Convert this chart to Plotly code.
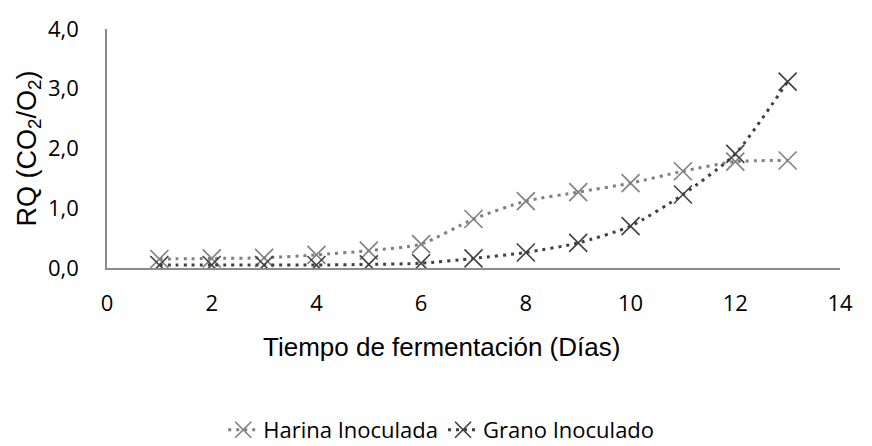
import plotly.graph_objects as go

dias = [1, 2, 3, 4, 5, 6, 7, 8, 9, 10, 11, 12, 13]
harina = [0.15, 0.16, 0.17, 0.22, 0.29, 0.40, 0.82, 1.12, 1.27, 1.42, 1.62, 1.78, 1.80]
grano = [0.05, 0.05, 0.05, 0.05, 0.06, 0.08, 0.16, 0.26, 0.42, 0.70, 1.23, 1.91, 3.12]

x_ticks = [0, 2, 4, 6, 8, 10, 12, 14]
y_ticks = [0, 1, 2, 3, 4]

x_title = "Tiempo de fermentación (Días)"
y_title = "RQ (CO<sub>2</sub>/O<sub>2</sub>)"

TICKFONT = "Open Sans, Lato, sans-serif"
TITLEFONT = "Liberation Sans, Arial, sans-serif"

fig = go.Figure()
fig.add_trace(go.Scatter(
    x=dias, y=harina, name="Harina Inoculada", mode="lines+markers",
    line=dict(color="#7f7f7f", width=3, dash="3px,5px", shape="spline", smoothing=0.6),
    marker=dict(symbol="x-thin-open", size=18, line=dict(color="#7f7f7f", width=1.6)),
))
fig.add_trace(go.Scatter(
    x=dias, y=grano, name="Grano Inoculado", mode="lines+markers",
    line=dict(color="#404040", width=3, dash="3px,5px", shape="spline", smoothing=0.6),
    marker=dict(symbol="x-thin-open", size=18, line=dict(color="#404040", width=1.6)),
))

fig.add_annotation(
    text=x_title, xref="paper", yref="paper", x=0.4557, y=-0.33,
    xanchor="center", yanchor="middle", showarrow=False,
    font=dict(size=26, family=TITLEFONT, color="#000000"),
)

fig.update_layout(
    width=872, height=446,
    margin=dict(l=107, r=32, t=29, b=178, autoexpand=False),
    plot_bgcolor="white", paper_bgcolor="white",
    separators=",.",
    font=dict(family=TICKFONT, color="#000000", size=22),
    showlegend=True,
    legend=dict(orientation="h", x=0.506, xref="container", xanchor="center",
                y=0.036, yref="container", yanchor="middle",
                font=dict(size=22, family=TICKFONT)),
    xaxis=dict(range=[0, 14], tickvals=x_ticks, showgrid=False, zeroline=False,
               showline=True, linecolor="#8c8c8c", linewidth=1.5,
               ticks="", ticklabelstandoff=15, automargin=False,
               tickfont=dict(size=22, family=TICKFONT)),
    yaxis=dict(range=[0, 4], tickvals=y_ticks, tickformat=".1f", showgrid=False,
               zeroline=False, showline=True, linecolor="#8c8c8c", linewidth=1.5,
               ticks="", ticklabelstandoff=22, automargin=False,
               tickfont=dict(size=22, family=TICKFONT),
               title=dict(text=y_title, font=dict(size=27, family=TITLEFONT),
                          standoff=4)),
)

fig.write_html("out.html")
